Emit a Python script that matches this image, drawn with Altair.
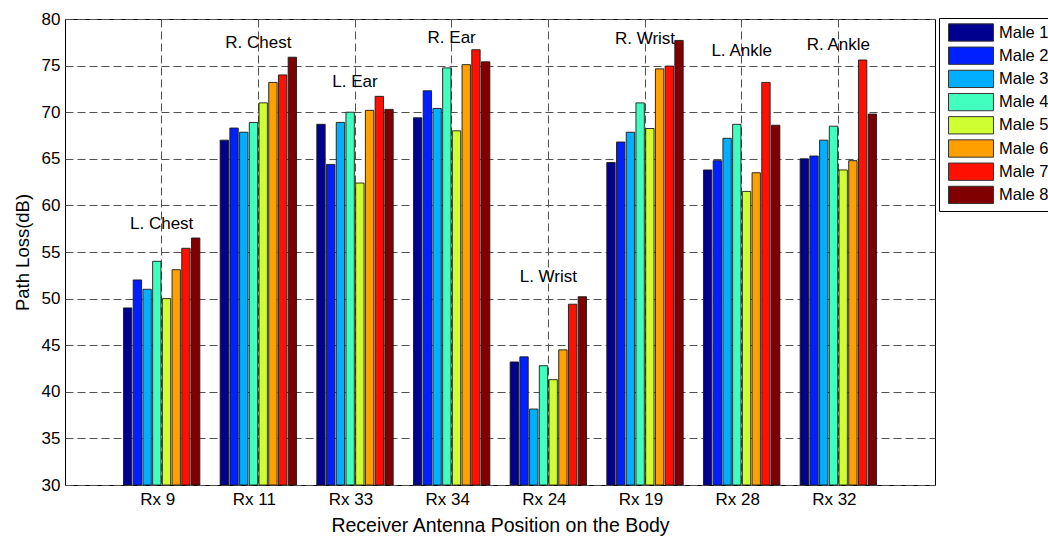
import altair as alt
import pandas as pd

groups = ["Rx 9", "Rx 11", "Rx 33", "Rx 34", "Rx 24", "Rx 19", "Rx 28", "Rx 32"]
series = ["Male 1", "Male 2", "Male 3", "Male 4", "Male 5", "Male 6", "Male 7", "Male 8"]

male1 = [49.0, 67.0, 68.7, 69.4, 43.2, 64.6, 63.8, 65.0]
male2 = [52.0, 68.3, 64.4, 72.3, 43.75, 66.8, 64.8, 65.3]
male3 = [51.0, 67.85, 68.9, 70.4, 38.15, 67.85, 67.2, 67.0]
male4 = [54.0, 68.9, 70.0, 74.75, 42.8, 71.0, 68.7, 68.5]
male5 = [50.0, 71.0, 62.4, 68.0, 41.3, 68.25, 61.5, 63.8]
male6 = [53.1, 73.2, 70.2, 75.1, 44.5, 74.65, 63.5, 64.8]
male7 = [55.4, 74.0, 71.7, 76.7, 49.4, 74.95, 73.2, 75.6]
male8 = [56.5, 75.9, 70.3, 75.4, 50.2, 77.7, 68.6, 69.8]

site_labels = ["L. Chest", "R. Chest", "L. Ear", "R. Ear", "L. Wrist", "R. Wrist", "L. Ankle", "R. Ankle"]
site_label_y = [58.0, 77.4, 73.2, 78.0, 52.3, 77.9, 76.6, 77.2]

colors = ["#00008F", "#0020FF", "#00AFFF", "#40FFBF", "#CFFF30", "#FFA000", "#FF1000", "#800000"]

all_values = [male1, male2, male3, male4, male5, male6, male7, male8]
rows = []
for s, vals in zip(series, all_values):
    for g, v in zip(groups, vals):
        rows.append({"group": g, "series": s, "value": v})
bars_df = pd.DataFrame(rows)
labels_df = pd.DataFrame({"group": groups, "label": site_labels, "y": site_label_y})

FONT = "Liberation Sans"

x_enc = alt.X(
    "group:N",
    sort=groups,
    scale=alt.Scale(paddingInner=0.21, paddingOuter=0.605),
    axis=alt.Axis(
        title="Receiver Antenna Position on the Body",
        labelAngle=0,
        grid=True,
        bandPosition=0.5,
        ticks=False,
        domain=False,
        labelFontSize=17,
        labelPadding=6,
        labelOffset=-4,
        titleFontSize=19.5,
        titleFontWeight="normal",
        titlePadding=9,
        gridColor="#505050",
        gridDash=[8, 4],
        gridWidth=1,
        labelColor="black",
        titleColor="black",
        labelFont=FONT,
        titleFont=FONT,
    ),
)

y_scale = alt.Scale(domain=[30, 80], zero=False, nice=False)
y_axis = alt.Axis(
    title="Path Loss(dB)",
    values=[30, 35, 40, 45, 50, 55, 60, 65, 70, 75, 80],
    grid=True,
    ticks=False,
    domain=False,
    labelFontSize=17,
    labelPadding=5,
    titleFontSize=18.5,
    titleFontWeight="normal",
    titlePadding=9,
    gridColor="#505050",
    gridDash=[8, 4],
    gridWidth=1,
    labelColor="black",
    titleColor="black",
    labelFont=FONT,
    titleFont=FONT,
)

bars = alt.Chart(bars_df).mark_bar(stroke="#1a1a1a", strokeWidth=0.9).encode(
    x=x_enc,
    xOffset=alt.XOffset("series:N", sort=series, scale=alt.Scale(paddingInner=0.14)),
    y=alt.Y("value:Q", scale=y_scale, axis=y_axis),
    y2=alt.datum(30),
    color=alt.Color(
        "series:N",
        sort=series,
        scale=alt.Scale(domain=series, range=colors),
        legend=alt.Legend(
            title=None,
            orient="none",
            legendX=874,
            legendY=-1,
            symbolType="M-2.6,-1H2.6V1H-2.6Z",
            symbolSize=299,
            symbolOffset=17.5,
            symbolStrokeColor="#333333",
            symbolStrokeWidth=1,
            symbolOpacity=1,
            labelFontSize=16.5,
            labelFont=FONT,
            labelColor="black",
            labelOffset=18.5,
            rowPadding=0.2,
            padding=5,
            strokeColor="black",
            fillColor="white",
        ),
    ),
)

texts = alt.Chart(labels_df).mark_text(
    fontSize=17, font=FONT, color="black", baseline="middle", align="center"
).encode(
    x=alt.X("group:N", sort=groups),
    y=alt.Y("y:Q", scale=y_scale),
    text="label:N",
)

chart = (
    alt.layer(bars, texts)
    .properties(
        width=870,
        height=466,
        autosize=alt.AutoSizeParams(type="none"),
        padding={"left": 65, "top": 19, "right": 113, "bottom": 51},
        background="white",
    )
    .configure_view(stroke="black", strokeWidth=1)
)

chart.save("out.html", embed_options={"renderer": "svg", "actions": False})
